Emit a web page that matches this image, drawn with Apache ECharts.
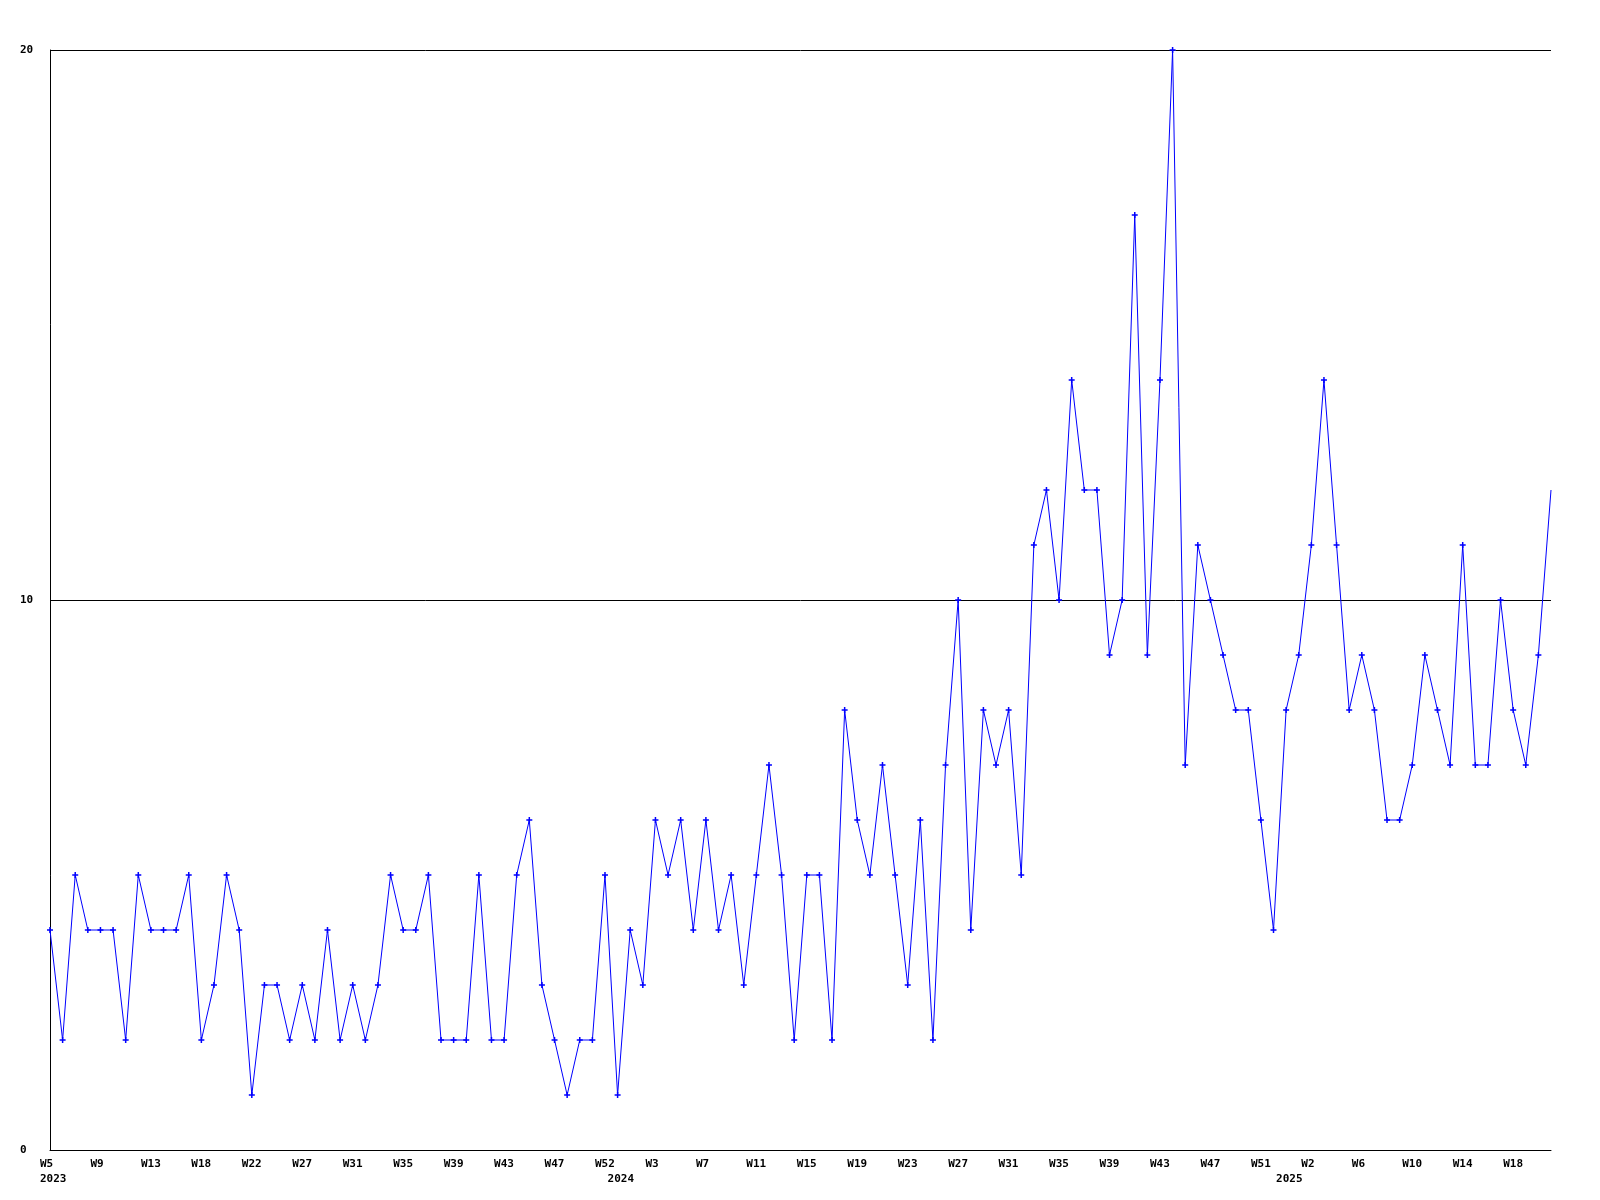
<!DOCTYPE html>
<html>
<head>
<meta charset="utf-8">
<script src="https://cdn.jsdelivr.net/npm/echarts@6/dist/echarts.min.js"></script>
<style>
html,body{margin:0;padding:0;background:#fff;}
#main{width:1600px;height:1200px;}
</style>
</head>
<body>
<div id="main"></div>
<script>
// Weekly counts, W5 2023 .. W21 2025 (120 weeks)
const values = [
  4,2,5,4,4,4,2,5,4,4,
  4,5,2,3,5,4,1,3,3,2,
  3,2,4,2,3,2,3,5,4,4,
  5,2,2,2,5,2,2,5,6,3,
  2,1,2,2,5,1,4,3,6,5,
  6,4,6,4,5,3,5,7,5,2,
  5,5,2,8,6,5,7,5,3,6,
  2,7,10,4,8,7,8,5,11,12,
  10,14,12,12,9,10,17,9,14,20,
  7,11,10,9,8,8,6,4,8,9,
  11,14,11,8,9,8,6,6,7,9,
  8,7,11,7,7,10,8,7,9,12
];
// Week tick labels, shown on every 4th point
const weekTicks = ['W5','W9','W13','W18','W22','W27','W31','W35','W39','W43','W47','W52',
  'W3','W7','W11','W15','W19','W23','W27','W31','W35','W39','W43','W47','W51',
  'W2','W6','W10','W14','W18'];
const tickStep = 4;
// Year labels (second line) and the point index they sit under
const yearLabels = ['2023','2024','2025'];
const yearIndex = [0,45,98];
const yTicks = [0,10,20];

const categories = values.map((v,i)=>String(i));

function isShown(i){
  return i % tickStep === 0 || yearIndex.indexOf(i) >= 0;
}
function fmt(val, i){
  i = Number(val);
  const w = (i % tickStep === 0) ? weekTicks[i / tickStep] : ' ';
  const yi = yearIndex.indexOf(i);
  let s = '{a|' + (w || ' ') + '}';
  if (yi >= 0) s += '\n{a|' + yearLabels[yi] + '}';
  return s;
}

const font = '"DejaVu Sans Mono", "Liberation Mono", monospace';
const chart = echarts.init(document.getElementById('main'), null, {renderer:'canvas'});
chart.setOption({
  animation:false,
  backgroundColor:'#ffffff',
  grid:{left:50, right:49, top:50, bottom:50, containLabel:false},
  xAxis:{
    type:'category',
    data:categories,
    boundaryGap:false,
    axisLine:{show:true, lineStyle:{color:'#000', width:1}},
    axisTick:{show:false},
    splitLine:{show:false},
    axisLabel:{
      interval:(i)=>isShown(i),
      formatter:fmt,
      margin:7,
      color:'#000',
      fontFamily:font,
      fontWeight:'bold',
      fontSize:11,
      align:'center',
      rich:{
        a:{width:20, align:'left', fontFamily:font, fontWeight:'bold', fontSize:11, color:'#000', lineHeight:15}
      }
    }
  },
  yAxis:{
    type:'value',
    min:yTicks[0], max:yTicks[yTicks.length-1], interval:yTicks[1]-yTicks[0],
    z:3,
    axisLine:{show:true, lineStyle:{color:'#000', width:1}},
    axisTick:{show:false},
    splitLine:{show:true, lineStyle:{color:'#000', width:1}},
    axisLabel:{
      margin:30,
      align:'left',
      color:'#000',
      fontFamily:font,
      fontWeight:'bold',
      fontSize:11
    }
  },
  series:[{
    type:'line',
    data:values,
    symbol:'path://M3,0H5V3H8V5H5V8H3V5H0V3H3Z',
    symbolSize:(v,p)=> p.dataIndex === values.length-1 ? 0 : 6,
    showAllSymbol:true,
    itemStyle:{color:'#0000ff'},
    lineStyle:{color:'#0000ff', width:1},
    clip:false
  }]
});
</script>
</body>
</html>
